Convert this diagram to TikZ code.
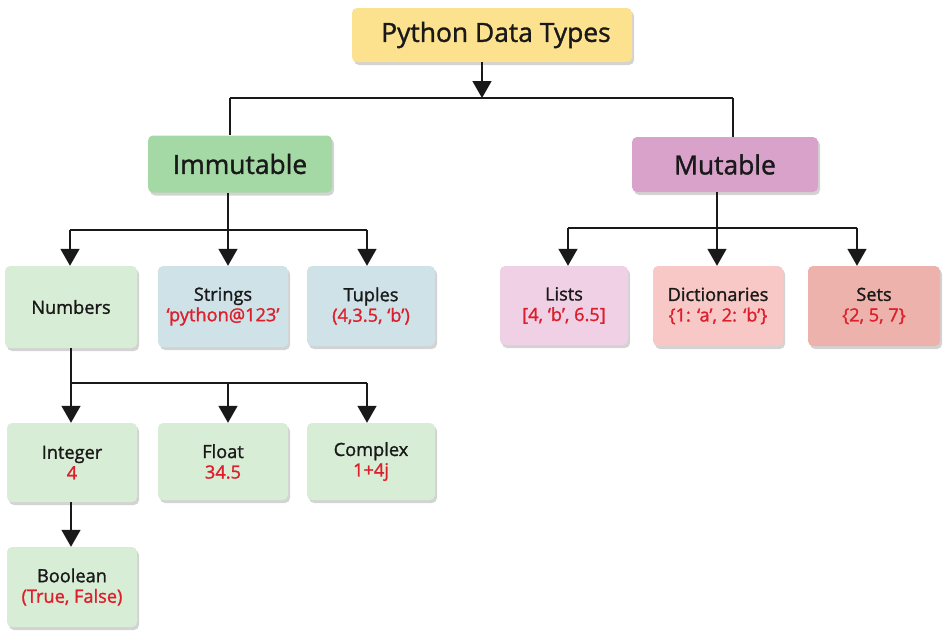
\documentclass[tikz,border=0pt]{standalone}
\usepackage{fontspec}
\setmainfont{Open Sans}[FakeBold=1.3,UprightFeatures={FakeBold=1.3}]
\usetikzlibrary{arrows.meta,shadows}
\definecolor{cTitle}{HTML}{FCE28E}
\definecolor{cImm}{HTML}{A4D8A4}
\definecolor{cMut}{HTML}{D9A2CB}
\definecolor{cNum}{HTML}{D8EDD6}
\definecolor{cStr}{HTML}{CFE2E8}
\definecolor{cList}{HTML}{EFD0E4}
\definecolor{cDict}{HTML}{F7C8C6}
\definecolor{cSet}{HTML}{ECB2AB}
\definecolor{cRed}{HTML}{DC1F2B}
\tikzset{
  box/.style={rounded corners=5pt, inner sep=0pt, align=center, text=black!90,
    drop shadow={shadow xshift=2pt, shadow yshift=-3pt, opacity=0.35, fill=black!50}},
  bigbox/.style={box, font=\fontsize{26.4}{30}\selectfont},
  smallbox/.style={box, font=\fontsize{18.2}{20.5}\selectfont},
  conn/.style={line width=1.6pt, black!90},
  arr/.style={conn, -{Triangle[width=19pt,length=17pt]}},
}
\newcommand{\val}[1]{\textcolor{cRed}{#1}}
\begin{document}
\begin{tikzpicture}[x=1pt,y=-1pt]
\useasboundingbox (0,0) rectangle (952,640);
% top level
\node[bigbox, fill=cTitle, minimum width=280pt, minimum height=54pt] (title) at (492,35) {\hspace*{8pt}Python Data Types};
\node[bigbox, fill=cImm, minimum width=184pt, minimum height=57pt] (imm) at (240,164) {Immutable};
\node[bigbox, fill=cMut, minimum width=186pt, minimum height=55pt] (mut) at (725,164.5) {Mutable};
% second level
\node[smallbox, fill=cNum, minimum width=132pt, minimum height=82pt] (num) at (71,307) {Numbers};
\node[smallbox, fill=cStr, minimum width=130pt, minimum height=81pt] (str) at (223,306.5) {Strings\\\val{‘python@123’}};
\node[smallbox, fill=cStr, minimum width=128pt, minimum height=80pt] (tup) at (371,306) {Tuples\\\val{(4,3.5, ‘b’)}};
\node[smallbox, fill=cList, minimum width=128pt, minimum height=79pt] (lst) at (564,305.5) {Lists\\\val{[4, ‘b’, 6.5]}};
\node[smallbox, fill=cDict, minimum width=130pt, minimum height=80pt] (dic) at (718,306) {Dictionaries\\\val{\{1: ‘a’, 2: ‘b’\}}};
\node[smallbox, fill=cSet, minimum width=132pt, minimum height=80pt] (set) at (874,306) {Sets\\\val{\{2, 5, 7\}}};
% third level
\node[smallbox, fill=cNum, minimum width=130pt, minimum height=79pt] (int) at (72,462.5) {Integer\\\val{4}};
\node[smallbox, fill=cNum, minimum width=130pt, minimum height=77pt] (flt) at (223,461.5) {Float\\\val{34.5}};
\node[smallbox, fill=cNum, minimum width=128pt, minimum height=77pt] (cpx) at (371,461.5) {Complex\\\val{1+4j}};
\node[smallbox, fill=cNum, minimum width=130pt, minimum height=80pt] (bool) at (72,587) {Boolean\\\val{(True, False)}};
% junction coordinates
\coordinate (j0) at (482,98);
\coordinate (j0l) at (230,98);
\coordinate (j0r) at (733,98);
\coordinate (j1) at (228,230);
\coordinate (j1l) at (70,230);
\coordinate (j1r) at (367,230);
\coordinate (j2) at (717,228);
\coordinate (j2l) at (568,228);
\coordinate (j2r) at (857,228);
\coordinate (j3) at (71,383);
\coordinate (j3m) at (228,383);
\coordinate (j3r) at (367,383);
% connectors
\draw[arr] (title.south -| j0) -- (j0);
\draw[conn] (j0l) -- (j0r);
\draw[conn] (j0l) -- (imm.north -| j0l);
\draw[conn] (j0r) -- (mut.north -| j0r);
\draw[conn] (imm.south -| j1) -- (j1);
\draw[conn] (j1l) -- (j1r);
\draw[arr] (j1l) -- (num.north -| j1l);
\draw[arr] (j1) -- (str.north -| j1);
\draw[arr] (j1r) -- (tup.north -| j1r);
\draw[conn] (mut.south -| j2) -- (j2);
\draw[conn] (j2l) -- (j2r);
\draw[arr] (j2l) -- (lst.north -| j2l);
\draw[arr] (j2) -- (dic.north -| j2);
\draw[arr] (j2r) -- (set.north -| j2r);
\draw[conn] (num.south -| j3) -- (j3);
\draw[conn] (j3) -- (j3r);
\draw[arr] (j3) -- (int.north -| j3);
\draw[arr] (j3m) -- (flt.north -| j3m);
\draw[arr] (j3r) -- (cpx.north -| j3r);
\draw[arr] (int.south -| j3) -- (bool.north -| j3);
\end{tikzpicture}
\end{document}
